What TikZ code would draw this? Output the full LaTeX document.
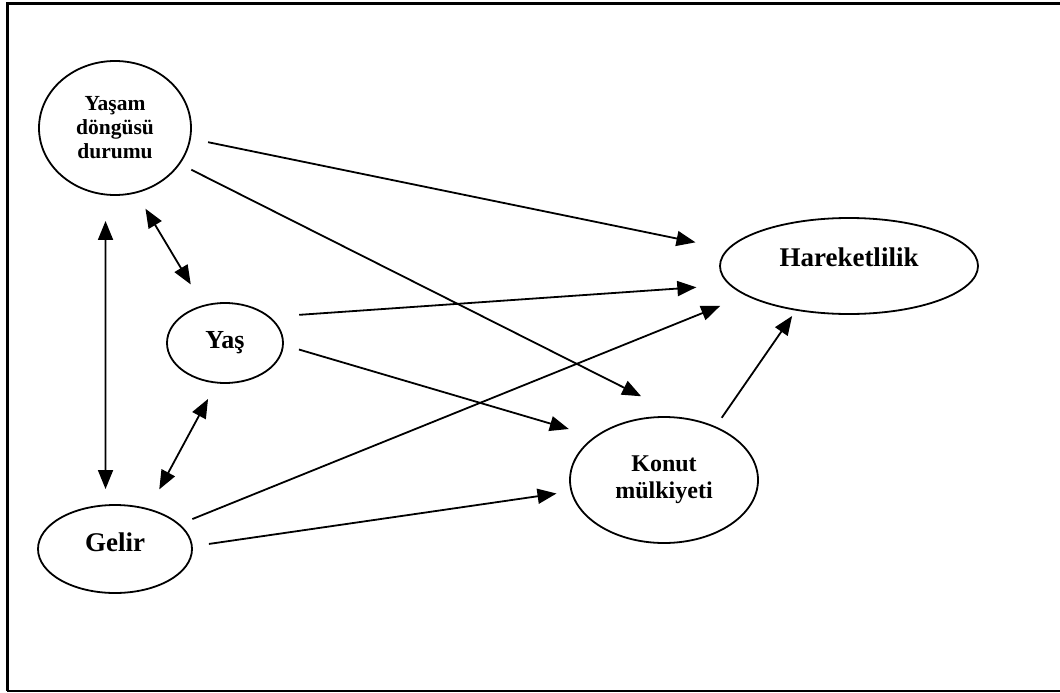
\documentclass[tikz,border=0pt]{standalone}
\usepackage{fontspec}
\setmainfont{Liberation Serif}
\usetikzlibrary{shapes.geometric,arrows.meta}
\begin{document}
\begin{tikzpicture}[x=1pt,y=-1pt,
  oval/.style={draw,ellipse,line width=1.8pt,inner sep=0pt,align=center},
  link/.style={line width=1.8pt,-{Triangle[length=19pt,width=15pt]}},
  both/.style={line width=1.8pt,{Triangle[length=19pt,width=15pt]}-{Triangle[length=19pt,width=15pt]}}]

\useasboundingbox (0,0) rectangle (1060,693);
\draw[line width=2.5pt] (1062,3.5) -- (7.3,3.5) -- (7.3,691);
\draw[line width=1.2pt] (7.3,691) -- (1062,691);

\node[oval,minimum width=152pt,minimum height=134pt,font=\bfseries\fontsize{21.5}{24}\selectfont] (yasam) at (115,128) {Yaşam\\döngüsü\\durumu};
\node[oval,minimum width=116pt,minimum height=80pt,font=\bfseries\fontsize{26}{30}\selectfont] (yas) at (225,343) {Yaş};
\node[oval,minimum width=154pt,minimum height=88pt,text height=18pt,text depth=14pt,font=\bfseries\fontsize{27}{30}\selectfont] (gelir) at (115,549) {Gelir};
\node[oval,minimum width=188pt,minimum height=126pt,font=\bfseries\fontsize{24}{27}\selectfont] (konut) at (664,480) {Konut\\mülkiyeti};
\node[oval,minimum width=258pt,minimum height=96pt,text height=18pt,text depth=18pt,font=\bfseries\fontsize{27}{30}\selectfont] (harek) at (849,266) {Hareketlilik};

\draw[link,shorten <=17.5pt,shorten >=32.5pt] (yasam.-8.7) -- (harek.172.8);
\draw[link,shorten <=12.5pt,shorten >=47pt] (yasam.-29.7) -- (konut.73.8);
\draw[both,shorten <=18pt,shorten >=24pt] (yasam.-72.2) -- (yas.120.1);
\draw[both,shorten <=25.6pt,shorten >=15.4pt] (yasam.-98.6) -- (gelir.102.9);
\draw[both,shorten <=17.6pt,shorten >=21.8pt] (yas.-102.3) -- (gelir.50.7);
\draw[link,shorten <=29pt,shorten >=33pt] (yas.30.4) -- (harek.-171.7);
\draw[link,shorten <=15.8pt,shorten >=26.7pt] (yas.-2.5) -- (konut.148.6);
\draw[link,shorten <=13.5pt,shorten >=27.5pt] (gelir.21.4) -- (harek.-164.5);
\draw[link,shorten <=16.3pt,shorten >=14.3pt] (gelir.2.7) -- (konut.-173.9);
\draw[link,shorten <=10.5pt,shorten >=6.5pt] (konut.46.9) -- (harek.-140.7);
\end{tikzpicture}
\end{document}
